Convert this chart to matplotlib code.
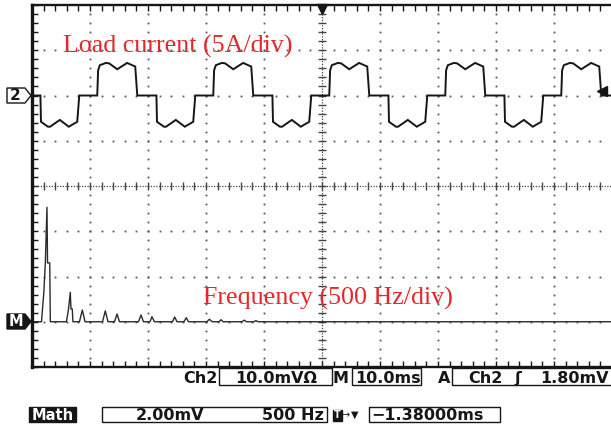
import numpy as np
import matplotlib
matplotlib.use('Agg')
import matplotlib.pyplot as plt
from matplotlib.patches import Polygon, Rectangle

W, H = 611, 426

# channel 2 load current, one period (time in ms, current in A)
cycle_t = [1.45, 1.55, 2.75, 3.1, 4.8, 6.35, 7.8, 8.15, 11.25, 11.4, 11.7, 12.75, 13.3, 14.7, 16.4, 17.8, 18.15]
cycle_a = [0, -2.9, -3.45, -3.45, -2.7, -3.45, -2.9, 0, 0, 2.8, 3.35, 3.6, 3.55, 2.9, 3.6, 3.2, 0]
cycle_starts = [0, 20, 40, 60, 80]
t_end = 100

# math channel (FFT), trace vertices: displayed frequency in Hz, magnitude in mV
spec_f = [0, 82, 102, 115, 129, 134, 153, 158,
          297, 315, 330, 336, 347, 353,
          409, 434, 457, 608, 632, 655, 711, 733, 754,
          918, 940, 961, 1017, 1034, 1056, 1211, 1230, 1250, 1310, 1330, 1349,
          1508, 1530, 1552, 1612, 1630, 1647, 1810, 1830, 1849, 1914, 1930, 1948,
          5000]
spec_mv = [0, 0, 1.3, 2.6, 5.06, 2.6, 2.6, 0,
           0, 0.57, 1.3, 0.57, 0.57, 0,
           0, 0.52, 0, 0, 0.48, 0, 0, 0.34, 0,
           0, 0.3, 0, 0, 0.22, 0, 0, 0.21, 0, 0, 0.18, 0,
           0, 0.11, 0, 0, 0.09, 0, 0, 0.07, 0, 0, 0.05, 0,
           0]

ms_per_div = 10.0
amp_per_div = 5.0
ch2_pos = 2.0
hz_per_div = 500.0
mv_per_div = 2.0
math_pos = -3.0

top_row = [('Ch2', 183), ('10.0mV\u03a9', 235), ('M', 333), ('10.0ms', 355),
           ('A', 438), ('Ch2', 468), ('\u0283', 514), ('1.80mV', 540)]
top_boxes = [(219, 332), (352, 421), (452, 620)]
bot_row = [('2.00mV', 136), ('500 Hz', 262), ('\u22121.38000ms', 371)]
bot_boxes = [(102, 327), (369, 500)]

red = '#e3282c'
ink = '#161616'
tek = dict(family='DejaVu Sans', weight='bold', size=11.5, color=ink)


def fx(px):
    return px / W


def fy(py):
    return 1 - py / H


fig = plt.figure(figsize=(W / 100, H / 100), dpi=100)
fig.patch.set_facecolor('white')
ax = fig.add_axes([fx(32), fy(367), 580 / W, 362 / H])
ax.set_xlim(0, 10)
ax.set_ylim(-4, 4)

# graticule
ax.set_xticks(np.arange(0, 11, 1))
ax.set_xticks(np.arange(0, 10.01, 0.2), minor=True)
ax.set_yticks(np.arange(-4, 5, 1))
ax.set_yticks(np.arange(-4, 4.01, 0.2), minor=True)
ax.tick_params(which='both', direction='in', top=True, bottom=True, left=True, right=False,
               labelbottom=False, labelleft=False, length=4, width=1, color=ink)
for side, lw in [('left', 2.4), ('top', 1.7), ('bottom', 1.7)]:
    ax.spines[side].set_linewidth(lw)
    ax.spines[side].set_color(ink)
ax.spines['right'].set_visible(False)

minor_x = np.arange(0.2, 10, 0.2)
minor_y = np.arange(-3.8, 4, 0.2)
for k in range(1, 10):
    if k == 5:
        continue
    ax.plot(np.full(len(minor_y), k), minor_y, ls='none', marker='s', ms=1.3, mew=0, color='#555')
for k in range(-3, 4):
    if k == 0:
        continue
    ax.plot(minor_x, np.full(len(minor_x), k), ls='none', marker='s', ms=1.3, mew=0, color='#555')
ax.axvline(5, color='#444', lw=0.9, ls=(0, (1, 1.2)))
ax.axhline(0, color='#444', lw=0.9, ls=(0, (1, 1.2)))
ax.plot(np.full(len(minor_y), 5), minor_y, ls='none', marker='_', ms=6, mew=1, color='#444')
ax.plot(minor_x, np.zeros(len(minor_x)), ls='none', marker='|', ms=6, mew=1, color='#444')

# channel 2 trace
t = [0]
a = [0]
for s in cycle_starts:
    t += [s + v for v in cycle_t]
    a += cycle_a
t.append(t_end)
a.append(0)
ax.plot(np.array(t) / ms_per_div, ch2_pos + np.array(a) / amp_per_div, color=ink, lw=1.4,
        solid_joinstyle='miter')

# FFT trace
ax.plot(np.array(spec_f) / hz_per_div, math_pos + np.array(spec_mv) / mv_per_div,
        color='#2a2a2a', lw=1.0)

# trigger markers
ax.plot(5, 3.92, marker='v', ms=7, color=ink, clip_on=False)
ax.plot(9.83, 2.09, marker='<', ms=7, color=ink, clip_on=False)

ax.text(0.53, 2.94, 'Load current (5A/div)', family='Liberation Serif', size=18.7,
        color=red, va='baseline')
ax.text(2.95, -2.61, 'Frequency (500 Hz/div)', family='Liberation Serif', size=18.7,
        color=red, va='baseline')

# channel markers on the left
pent = [(7, 88), (25, 88), (31, 95.5), (25, 103), (7, 103)]
fig.patches.append(Polygon([(fx(x), fy(y)) for x, y in pent], closed=True, fc='white',
                           ec=ink, lw=1.0, transform=fig.transFigure))
fig.text(fx(15.5), fy(96), '2', ha='center', va='center', family='DejaVu Sans',
         weight='bold', size=11, color=ink)
pent = [(7, 314), (25, 314), (31, 321.5), (25, 329), (7, 329)]
fig.patches.append(Polygon([(fx(x), fy(y)) for x, y in pent], closed=True, fc=ink,
                           ec=ink, lw=1.0, transform=fig.transFigure))
fig.text(fx(16), fy(322), 'M', ha='center', va='center', family='DejaVu Sans',
         weight='bold', size=10.5, color='white')

# status lines
for x0, x1 in top_boxes:
    fig.patches.append(Rectangle((fx(x0), fy(385)), (x1 - x0) / W, 17 / H, fill=False,
                                 ec=ink, lw=1.0, transform=fig.transFigure))
for s, x in top_row:
    fig.text(fx(x), fy(383), s, va='baseline', **tek)

fig.patches.append(Rectangle((fx(29), fy(422)), 47 / W, 15 / H, fc=ink, ec=ink,
                             transform=fig.transFigure))
fig.text(fx(52.5), fy(420), 'Math', ha='center', va='baseline',
         **{**tek, 'color': 'white', 'size': 10.5})
for x0, x1 in bot_boxes:
    fig.patches.append(Rectangle((fx(x0), fy(422)), (x1 - x0) / W, 15.5 / H, fill=False,
                                 ec=ink, lw=1.0, transform=fig.transFigure))
for s, x in bot_row:
    fig.text(fx(x), fy(420), s, va='baseline', **tek)
fig.patches.append(Rectangle((fx(333), fy(420.5)), 9 / W, 11 / H, fc=ink, ec=ink,
                             transform=fig.transFigure))
fig.text(fx(337.5), fy(415), 'T', ha='center', va='center', family='DejaVu Sans',
         weight='bold', size=7, color='white')
fig.text(fx(342), fy(415), '\u2192', va='center', family='DejaVu Sans', size=7, color=ink)
fig.text(fx(350.5), fy(415), '\u25bc', va='center', family='DejaVu Sans', size=7, color=ink)

fig.savefig('out.png', dpi=100)
